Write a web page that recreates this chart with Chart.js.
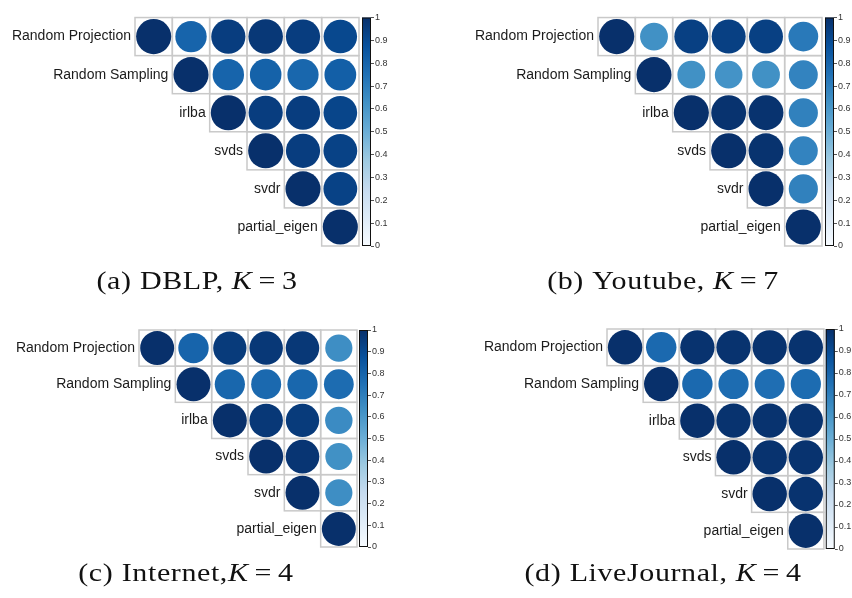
<!DOCTYPE html>
<html>
<head>
<meta charset="utf-8">
<script src="https://cdn.jsdelivr.net/npm/chart.js@4"></script>
<style>
  body { margin: 0; background: #fff; }
  #page { position: relative; width: 852px; height: 598px; overflow: hidden; }
  .panel { position: absolute; width: 426px; height: 299px; }
  .cap { position: absolute; width: 360px; text-align: center; font-family: "Liberation Serif", "DejaVu Serif", serif; font-size: 25px; letter-spacing: 0.5px; color: #111; line-height: 1; white-space: nowrap; transform: scaleX(1.2); transform-origin: 50% 50%; }
  .cap .eq { padding: 0 5px; }
  .cap .gap { padding-right: 7px; }
</style>
</head>
<body>
<div id="page">
  <div class="panel" style="left:0;top:0"><canvas id="c-dblp" width="426" height="299"></canvas></div>
  <div class="panel" style="left:426px;top:0"><canvas id="c-youtube" width="426" height="299"></canvas></div>
  <div class="panel" style="left:0;top:299px"><canvas id="c-internet" width="426" height="299"></canvas></div>
  <div class="panel" style="left:426px;top:299px"><canvas id="c-livejournal" width="426" height="299"></canvas></div>
  <div class="cap" style="left:17px;top:268px"><span class="gap">(a)</span>DBLP, <i>K</i><span class="eq">=</span>3</div>
  <div class="cap" style="left:483px;top:268px"><span class="gap">(b)</span>Youtube, <i>K</i><span class="eq">=</span>7</div>
  <div class="cap" style="left:6px;top:560px"><span class="gap">(c)</span>Internet,<i>K</i><span class="eq">=</span>4</div>
  <div class="cap" style="left:483px;top:560px"><span class="gap">(d)</span>LiveJournal, <i>K</i><span class="eq">=</span>4</div>
</div>
<script>
// methods compared (rows / columns of the matrix)
const methods = ["Random Projection", "Random Sampling", "irlba", "svds", "svdr", "partial_eigen"];

// upper triangle, row i holds columns i..5
const dblpRows = [
    [1, 0.80, 0.95, 0.97, 0.95, 0.91],
    [1, 0.80, 0.81, 0.79, 0.82],
    [1, 0.95, 0.95, 0.92],
    [1, 0.95, 0.93],
    [1, 0.93],
    [1]
];
const youtubeRows = [
    [1, 0.63, 0.94, 0.94, 0.94, 0.72],
    [1, 0.63, 0.62, 0.63, 0.68],
    [1, 0.99, 0.99, 0.69],
    [1, 0.99, 0.68],
    [1, 0.69],
    [1]
];
const internetRows = [
    [1, 0.80, 0.96, 0.97, 0.97, 0.64],
    [1, 0.79, 0.78, 0.79, 0.77],
    [1, 0.97, 0.96, 0.65],
    [1, 0.98, 0.63],
    [1, 0.64],
    [1]
];
const liveJournalRows = [
    [1, 0.78, 0.99, 0.99, 0.99, 0.99],
    [1, 0.78, 0.77, 0.76, 0.77],
    [1, 0.99, 0.99, 0.99],
    [1, 0.99, 0.99],
    [1, 0.99],
    [1]
];

// colour bar scale
const barMin = 0;
const barMax = 1;
const barStep = 0.1;

// Blues palette (RColorBrewer), low -> high
const blues = ['#F7FBFF', '#DEEBF7', '#C6DBEF', '#9ECAE1', '#6BAED6', '#4292C6', '#2171B5', '#08519C', '#08306B'];

const hexToRgb = h => [1, 3, 5].map(i => parseInt(h.substr(i, 2), 16));
const blueFor = (v) => {
    const t = Math.max(0, Math.min(1, v)) * (blues.length - 1);
    const i = Math.min(Math.floor(t), blues.length - 2);
    const f = t - i;
    const a = hexToRgb(blues[i]), b = hexToRgb(blues[i + 1]);
    const c = a.map((x, k) => Math.round(x + (b[k] - x) * f));
    return `rgb(${c[0]},${c[1]},${c[2]})`;
};

const CB_W = 9;     // colour bar width
const AXIS_W = 26;  // room for the colour bar tick labels

const corrPlugin = {
    id: 'corrGrid',
    beforeDatasetsDraw(chart) {
        const { ctx, chartArea: ca } = chart;
        const xs = chart.scales.x, ys = chart.scales.y;
        ctx.save();
        // cell frames
        ctx.strokeStyle = '#c9c9c9';
        ctx.lineWidth = 1.5;
        for (let i = 0; i < methods.length; i++) {
            for (let j = i; j < methods.length; j++) {
                const x0 = xs.getPixelForValue(j - 0.5), x1 = xs.getPixelForValue(j + 0.5);
                const y0 = ys.getPixelForValue(i - 0.5), y1 = ys.getPixelForValue(i + 0.5);
                ctx.strokeRect(x0, y0, x1 - x0, y1 - y0);
            }
        }
        // row labels sit left of the diagonal cell
        ctx.fillStyle = '#1b1b1b';
        ctx.font = '14px "Liberation Sans", Arial, sans-serif';
        ctx.textAlign = 'right';
        ctx.textBaseline = 'middle';
        methods.forEach((m, i) => {
            ctx.fillText(m, xs.getPixelForValue(i - 0.5) - 4, ys.getPixelForValue(i));
        });
        // colour bar
        const cs = chart.scales.c;
        const top = cs.getPixelForValue(barMax), bottom = cs.getPixelForValue(barMin);
        const grad = ctx.createLinearGradient(0, bottom, 0, top);
        blues.forEach((c, k) => grad.addColorStop(k / (blues.length - 1), c));
        ctx.fillStyle = grad;
        ctx.fillRect(ca.right - CB_W, top, CB_W, bottom - top);
        ctx.strokeStyle = '#111';
        ctx.lineWidth = 1;
        ctx.strokeRect(ca.right - CB_W + 0.5, top + 0.5, CB_W - 1, bottom - top - 1);
        ctx.restore();
    }
};

function makeCorrplot(canvasId, rows, box) {
    const cellW = (box.right - box.left) / methods.length;
    const cellH = (box.bottom - box.top) / methods.length;
    const cell = Math.min(cellW, cellH);

    // circle area follows |value|, as corrplot does
    const points = [];
    rows.forEach((row, i) => row.forEach((v, k) => {
        points.push({ x: i + k, y: i, r: Math.sqrt(Math.abs(v)) * cell * 0.47 });
    }));
    const colours = [];
    rows.forEach(row => row.forEach(v => colours.push(blueFor(v))));

    const xMax = methods.length - 0.5 + (box.cbRight - box.right) / cellW;

    new Chart(document.getElementById(canvasId), {
        type: 'bubble',
        data: {
            datasets: [{
                data: points,
                backgroundColor: colours,
                borderWidth: 0,
                yAxisID: 'y'
            }]
        },
        options: {
            responsive: false,
            animation: false,
            events: [],
            layout: {
                padding: {
                    left: box.left,
                    top: box.top,
                    bottom: 299 - box.bottom,
                    right: 426 - box.cbRight - AXIS_W
                }
            },
            scales: {
                x: { type: 'linear', display: false, min: -0.5, max: xMax },
                y: { type: 'linear', display: false, min: -0.5, max: methods.length - 0.5, reverse: true },
                c: {
                    type: 'linear',
                    axis: 'y',
                    position: 'right',
                    min: barMin,
                    max: barMax,
                    afterFit: s => { s.width = AXIS_W; },
                    border: { display: false },
                    grid: { drawOnChartArea: false, drawTicks: true, tickLength: 3, color: '#555', lineWidth: 1 },
                    ticks: {
                        stepSize: barStep,
                        padding: 1,
                        color: '#333',
                        font: { size: 9, family: '"Liberation Sans", Arial, sans-serif' },
                        callback: v => Number(v.toFixed(1)).toString()
                    }
                }
            },
            plugins: { legend: { display: false }, tooltip: { enabled: false } }
        },
        plugins: [corrPlugin]
    });
}

makeCorrplot('c-dblp', dblpRows, { left: 135, top: 15, right: 359, bottom: 246, cbRight: 371 });
makeCorrplot('c-youtube', youtubeRows, { left: 172, top: 13, right: 396, bottom: 246, cbRight: 408 });
makeCorrplot('c-internet', internetRows, { left: 139, top: 31, right: 357, bottom: 248, cbRight: 368 });
makeCorrplot('c-livejournal', liveJournalRows, { left: 181, top: 30, right: 401, bottom: 250, cbRight: 412 });
</script>
</body>
</html>
